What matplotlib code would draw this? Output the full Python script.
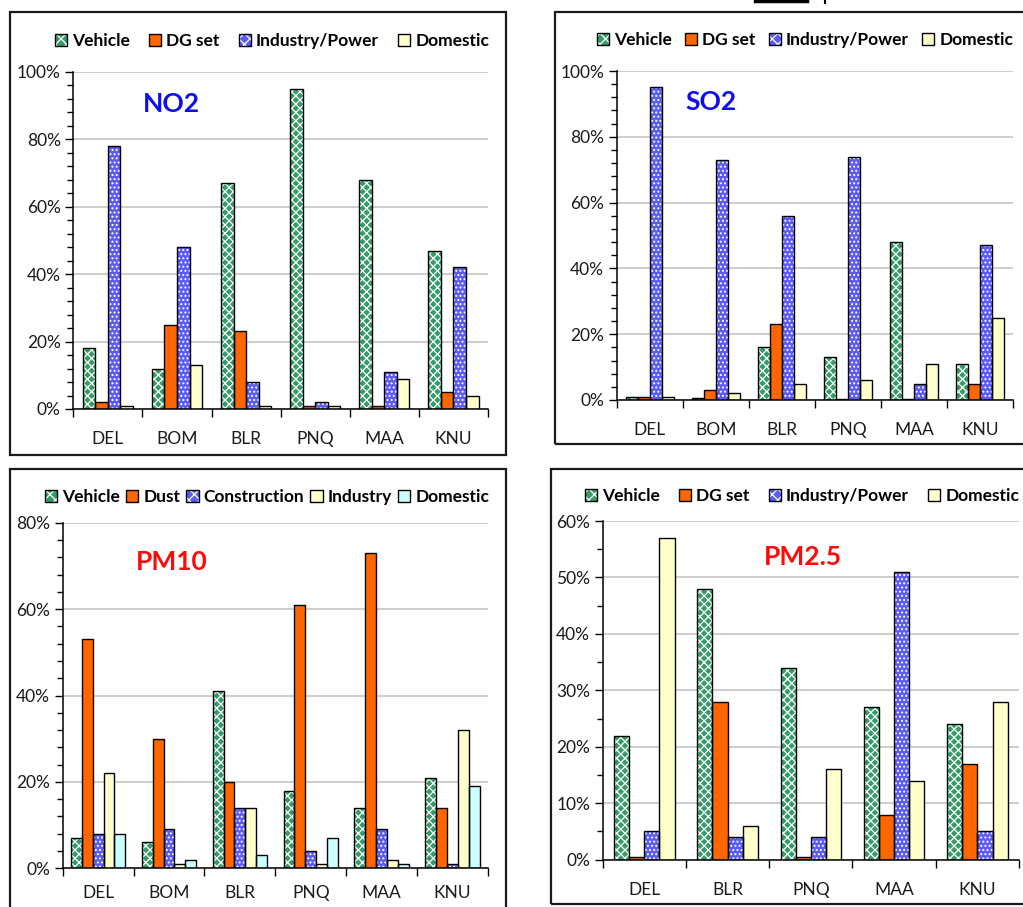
import numpy as np
import matplotlib
matplotlib.use('Agg')
import matplotlib.pyplot as plt
from matplotlib.patches import Rectangle, Patch
from matplotlib.lines import Line2D
from matplotlib.ticker import MultipleLocator, FuncFormatter

plt.rcParams['font.family'] = ['Lato', 'DejaVu Sans']
plt.rcParams['hatch.linewidth'] = 0.9

W, H = 1023, 907

# --- data (% share of each source) ---
cities6 = ['DEL', 'BOM', 'BLR', 'PNQ', 'MAA', 'KNU']
cities5 = ['DEL', 'BLR', 'PNQ', 'MAA', 'KNU']
gas_sources = ['Vehicle', 'DG set', 'Industry/Power', 'Domestic']
pm10_sources = ['Vehicle', 'Dust', 'Construction', 'Industry', 'Domestic']

no2_vehicle = [18, 12, 67, 95, 68, 47]
no2_dg = [2, 25, 23, 1, 1, 5]
no2_industry = [78, 48, 8, 2, 11, 42]
no2_domestic = [1, 13, 1, 1, 9, 4]

so2_vehicle = [1, 0.5, 16, 13, 48, 11]
so2_dg = [1, 3, 23, 0.3, 0.3, 5]
so2_industry = [95, 73, 56, 74, 5, 47]
so2_domestic = [1, 2, 5, 6, 11, 25]

pm10_vehicle = [7, 6, 41, 18, 14, 21]
pm10_dust = [53, 30, 20, 61, 73, 14]
pm10_construction = [8, 9, 14, 4, 9, 1]
pm10_industry = [22, 1, 14, 1, 2, 32]
pm10_domestic = [8, 2, 3, 7, 1, 19]

pm25_vehicle = [22, 48, 34, 27, 24]
pm25_dg = [0.5, 28, 0.5, 8, 17]
pm25_industry = [5, 4, 4, 51, 5]
pm25_domestic = [57, 6, 16, 14, 28]

# --- styles: (facecolor, hatch) ---
GREEN = ('#359b69', 'xxxx')
ORANGE = ('#ff6600', None)
BLUE = ('#5c5cf5', '....')
YELLOW = ('#ffffcc', None)
CYAN = ('#ccffff', None)

fig = plt.figure(figsize=(W / 100, H / 100), dpi=100)


def px_axes(l, t, r, b):
    return fig.add_axes([l / W, 1 - b / H, (r - l) / W, (b - t) / H])


def frame(l, t, r, b):
    fig.add_artist(Rectangle((l / W, 1 - b / H), (r - l) / W, (b - t) / H,
                             transform=fig.transFigure, fill=False,
                             edgecolor='#1a1a1a', lw=1.6, clip_on=False))


def panel(rect, cats, series, labels, styles, ymax, major, minor,
          title, tcolor, txy, legxy, colspace, xpad=16):
    ax = px_axes(*rect)
    n = len(series)
    w = 1.0 / (n + 1.5)
    idx = np.arange(len(cats))
    for j, (vals, (fc, hatch)) in enumerate(zip(series, styles)):
        x = idx + (j - (n - 1) / 2) * w
        if hatch:
            ax.bar(x, vals, w, color=fc, edgecolor='white', hatch=hatch,
                   lw=0, zorder=2)
        else:
            ax.bar(x, vals, w, color=fc, lw=0, zorder=2)
        ax.bar(x, vals, w, fill=False, edgecolor='black', lw=1.0, zorder=3)

    ax.set_xlim(-0.5, len(cats) - 0.5)
    ax.set_ylim(0, ymax)
    ax.set_xticks(idx)
    ax.set_xticklabels(cats)
    ax.set_xticks(np.arange(len(cats) + 1) - 0.5, minor=True)
    ax.tick_params(axis='x', which='major', length=0, pad=xpad,
                   labelsize=12.5, labelcolor='#1a1a1a')
    ax.tick_params(axis='x', which='minor', length=6, width=1, direction='out')
    ax.yaxis.set_major_locator(MultipleLocator(major))
    ax.yaxis.set_minor_locator(MultipleLocator(minor))
    ax.yaxis.set_major_formatter(FuncFormatter(lambda v, p: f'{v:.0f}%'))
    ax.tick_params(axis='y', which='major', length=6, width=1, pad=3,
                   labelsize=12.5, labelcolor='#1a1a1a')
    ax.tick_params(axis='y', which='minor', length=4, width=1)
    ax.yaxis.grid(True, color='#c0c0c0', lw=1.1)
    ax.set_axisbelow(True)
    for s in ('top', 'right'):
        ax.spines[s].set_visible(False)
    for s in ('left', 'bottom'):
        ax.spines[s].set_linewidth(1.1)

    fig.text(txy[0] / W, 1 - txy[1] / H, title, color=tcolor,
             fontsize=19, fontweight='bold', ha='center', va='center')

    handles = []
    for fc, hatch in styles:
        if hatch:
            handles.append((Patch(facecolor=fc, edgecolor='white', hatch='xxx',
                                  lw=0),
                            Patch(fill=False, edgecolor='black', lw=1)))
        else:
            handles.append(Patch(facecolor=fc, edgecolor='black', lw=1))
    fig.legend(handles, labels, loc='center',
               bbox_to_anchor=(legxy[0] / W, 1 - legxy[1] / H),
               ncol=n, frameon=False, handlelength=0.7, handleheight=0.7,
               handletextpad=0.3, columnspacing=colspace,
               prop={'weight': 'bold', 'size': 12.5})
    return ax


frame(9.5, 12, 506, 455)
panel((73.3, 72, 488, 409), cities6,
      [no2_vehicle, no2_dg, no2_industry, no2_domestic], gas_sources,
      [GREEN, ORANGE, BLUE, YELLOW], 100, 20, 4,
      'NO2', '#0d0df0', (171, 104), (272, 41), 1.1)

frame(555, 12, 1030, 444)
panel((616.7, 71, 1013, 400), cities6,
      [so2_vehicle, so2_dg, so2_industry, so2_domestic], gas_sources,
      [GREEN, ORANGE, BLUE, YELLOW], 100, 20, 4,
      'SO2', '#0d0df0', (711, 102), (805, 40), 0.75)

frame(9.5, 469, 506, 915)
panel((62.7, 522.7, 488, 868.3), cities6,
      [pm10_vehicle, pm10_dust, pm10_construction, pm10_industry,
       pm10_domestic], pm10_sources,
      [GREEN, ORANGE, BLUE, YELLOW, CYAN], 80, 20, 4,
      'PM10', '#ff0a0a', (172, 562), (267, 497), 0.35, xpad=12)

frame(550.7, 469, 1030, 904)
panel((602.7, 521, 1019, 859.7), cities5,
      [pm25_vehicle, pm25_dg, pm25_industry, pm25_domestic], gas_sources,
      [GREEN, ORANGE, BLUE, YELLOW], 60, 10, 5,
      'PM2.5', '#ff0a0a', (803, 557), (802, 496), 1.1)

# remnant of the caption line above the SO2 panel
fig.add_artist(Line2D([755 / W, 807 / W], [1 - 1 / H, 1 - 1 / H], lw=2.5,
                      color='black', transform=fig.transFigure))
fig.add_artist(Line2D([825 / W, 825 / W], [1, 1 - 3 / H], lw=1.5,
                      color='black', transform=fig.transFigure))

fig.savefig('out.png', dpi=100)
